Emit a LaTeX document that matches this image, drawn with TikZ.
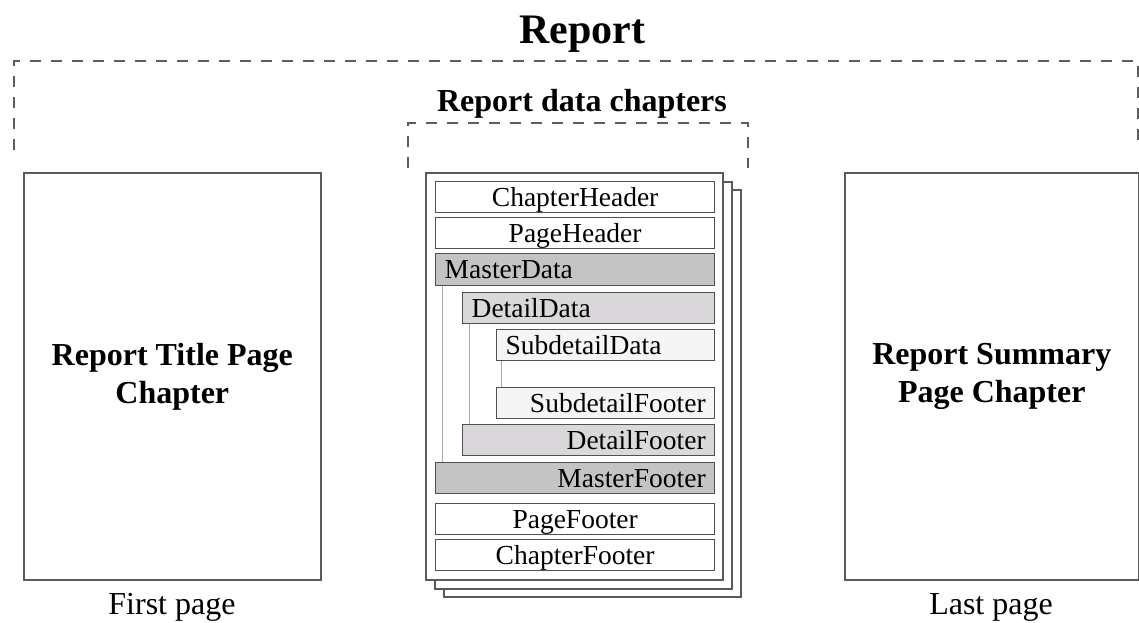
\documentclass[tikz,border=0pt]{standalone}
\usepackage{fontspec}
\setmainfont{Liberation Serif}
\definecolor{pgray}{HTML}{5A5A5A}
\definecolor{dgray}{HTML}{5C5C5C}
\definecolor{bgray}{HTML}{505050}
\definecolor{mfill}{HTML}{C4C4C4}
\definecolor{dfill}{HTML}{DAD8DA}
\definecolor{sfill}{HTML}{F6F5F6}
\definecolor{lgray}{HTML}{A8A8A8}
\newcommand\myhugebold{\fontsize{42}{48}\selectfont\bfseries}
\newcommand\mybigbold{\fontsize{32}{38}\selectfont\bfseries}
\newcommand\mybig{\fontsize{32}{38}\selectfont}
\newcommand\mybandfont{\fontsize{27.5}{30}\selectfont}
\begin{document}
\begin{tikzpicture}[x=1pt,y=-1pt,
  page/.style={draw=pgray, line width=1.6pt, fill=white, inner sep=0pt,
    minimum width=297pt, minimum height=407pt, anchor=north west},
  band/.style={draw=bgray, line width=1.3pt, inner xsep=9pt, inner ysep=0pt,
    minimum height=31pt, anchor=north west, font=\mybandfont,
    text height=21pt, text depth=3pt},
  bandc/.style={band, align=center},
  bandl/.style={band, align=left},
  bandr/.style={band, align=right},
  bracket/.style={draw=dgray, line width=1.8pt, dash pattern=on 11pt off 10pt},
  link/.style={draw=lgray, line width=1pt},
  caption/.style={font=\mybig, anchor=base}]
\useasboundingbox (0,0) rectangle (1139,622);

% titles
\node[font=\myhugebold, anchor=base] (report) at (582,43) {Report};
\node[font=\mybigbold, anchor=base] (rdc) at (582,111) {Report data chapters};

% dashed brackets
\coordinate (o1) at (14,150);
\coordinate (o2) at (14,61);
\coordinate (o3) at (1138,61);
\coordinate (o4) at (1138,150);
\draw[bracket] (o1) -- (o2) -- (o3) -- (o4);
\coordinate (i1) at (408,168);
\coordinate (i2) at (408,123);
\coordinate (i3) at (748,123);
\coordinate (i4) at (748,168);
\draw[bracket] (i1) -- (i2) -- (i3) -- (i4);

% side pages
\node[page, font=\mybigbold, align=center] (first) at (23,172) {Report Title Page\\Chapter};
\node[page, minimum width=294pt, font=\mybigbold, align=center] (last) at (844,172) {Report Summary\\Page Chapter};
\node[caption] (firstlbl) at (172,614) {First page};
\node[caption] (lastlbl) at (991,614) {Last page};

% stacked pages
\node[page] (p3) at (443,189) {};
\node[page] (p2) at (434,181) {};
\node[page] (p1) at (425,172) {};

% bands
\node[bandc, text width=261pt, fill=white] (ch) at (435,181) {ChapterHeader};
\node[bandc, text width=261pt, fill=white] (ph) at (435,217) {PageHeader};
\node[bandl, text width=261pt, fill=mfill, minimum height=32pt] (md) at (435,253) {MasterData};
\node[bandl, text width=234pt, fill=dfill] (dd) at (462,292) {DetailData};
\node[bandl, text width=200pt, fill=sfill] (sd) at (496,329) {SubdetailData};
\node[bandr, text width=200pt, fill=sfill] (sf) at (496,387) {SubdetailFooter};
\node[bandr, text width=234pt, fill=dfill] (df) at (462,424) {DetailFooter};
\node[bandr, text width=261pt, fill=mfill] (mf) at (435,462) {MasterFooter};
\node[bandc, text width=261pt, fill=white] (pf) at (435,503) {PageFooter};
\node[bandc, text width=261pt, fill=white] (cf) at (435,539) {ChapterFooter};

% nesting links
\draw[link] ([xshift=7pt]md.south west) -- ([xshift=7pt]mf.north west);
\draw[link] ([xshift=7pt]dd.south west) -- ([xshift=7pt]df.north west);
\draw[link] ([xshift=5pt]sd.south west) -- ([xshift=5pt]sf.north west);
\end{tikzpicture}
\end{document}
